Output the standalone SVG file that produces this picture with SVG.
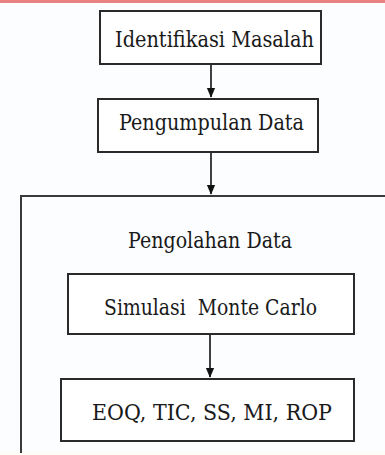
<svg xmlns="http://www.w3.org/2000/svg" width="385" height="455" viewBox="0 0 385 455">
<defs>
<style>
.box{fill:#ffffff;stroke:#2a2a2a;stroke-width:2}
.lbl{font-family:'DejaVu Serif','Liberation Serif','Noto Serif',serif;font-size:22px;fill:#1a1a1a;text-anchor:middle}
.conn{stroke:#111;stroke-width:1.6;fill:none}
</style>
<marker id="arr" markerWidth="10" markerHeight="12" refX="11" refY="5" orient="auto" markerUnits="userSpaceOnUse" viewBox="0 0 12 10">
<path d="M0,0 L12,5 L0,10 Z" fill="#111"/>
</marker>
</defs>
<rect x="0" y="0" width="385" height="455" fill="#fbfdff"/>
<rect x="0" y="0" width="385" height="3" fill="#e98282"/>
<rect x="0" y="452" width="385" height="3" fill="#fdfcf5"/>
<g id="pengolahan-data">
<path d="M21,453 L21,196 L390,196" fill="none" stroke="#3a3a3a" stroke-width="2"/>
<text class="lbl" x="210" y="248" textLength="164" lengthAdjust="spacingAndGlyphs">Pengolahan Data</text>
</g>
<g id="identifikasi-masalah">
<rect class="box" x="100" y="11" width="221" height="53"/>
<text class="lbl" x="214.5" y="46.5" textLength="199" lengthAdjust="spacingAndGlyphs">Identifikasi Masalah</text>
</g>
<g id="pengumpulan-data">
<rect class="box" x="98" y="99" width="220" height="53"/>
<text class="lbl" x="211.5" y="130" textLength="185" lengthAdjust="spacingAndGlyphs">Pengumpulan Data</text>
</g>
<g id="simulasi-monte-carlo">
<rect class="box" x="68" y="274" width="286" height="60"/>
<text class="lbl" x="210.5" y="315" xml:space="preserve" textLength="213" lengthAdjust="spacingAndGlyphs">Simulasi  Monte Carlo</text>
</g>
<g id="eoq">
<rect class="box" x="61" y="379" width="293" height="62"/>
<text class="lbl" x="212" y="420" textLength="240" lengthAdjust="spacingAndGlyphs">EOQ, TIC, SS, MI, ROP</text>
</g>
<g id="connectors">
<line class="conn" x1="211" y1="65" x2="211" y2="97" marker-end="url(#arr)"/>
<line class="conn" x1="211" y1="153" x2="211" y2="194" marker-end="url(#arr)"/>
<line class="conn" x1="210" y1="335" x2="210" y2="377" marker-end="url(#arr)"/>
</g>
</svg>
